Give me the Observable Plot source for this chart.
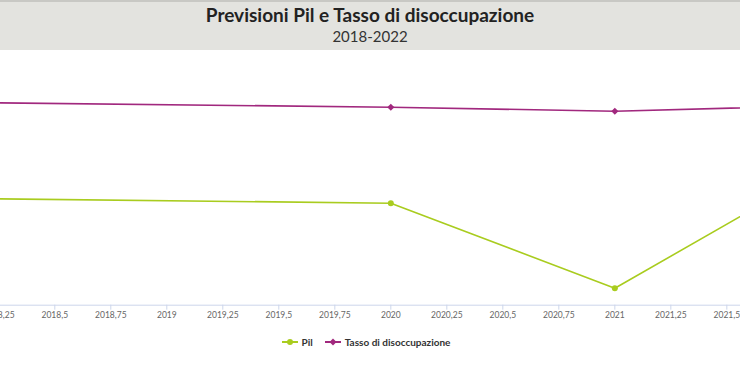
<!DOCTYPE html>
<html>
<head>
<meta charset="utf-8">
<script src="https://cdn.jsdelivr.net/npm/d3@7"></script>
<script src="https://cdn.jsdelivr.net/npm/@observablehq/plot@0.6"></script>
<style>
  body { margin:0; width:740px; height:389px; overflow:hidden; background:#fff; font-family: Lato, "Open Sans", sans-serif; }
  #header { height:48px; background:#e3e3df; border-top:2px solid #c8c8c4; text-align:center; }
  #title { font-weight:bold; font-size:19px; color:#222; padding-top:2px; line-height:22px; }
  #subtitle { font-size:15px; color:#333; line-height:18px; margin-top:1px; }
  #legend { position:absolute; top:336px; left:-4px; width:740px; text-align:center; font-size:10px; font-weight:bold; color:#333; }
  #legend span.item { display:inline-flex; align-items:center; margin:0 6px; }
  #legend svg { margin-right:4px; }
</style>
</head>
<body>
<div id="header">
  <div id="title">Previsioni Pil e Tasso di disoccupazione</div>
  <div id="subtitle">2018-2022</div>
</div>
<div id="chart"></div>
<div id="legend"></div>
<script>
const years = [2018, 2020, 2021, 2022];
const pil = [1.3, 0.8, -7.7, 5.1];
const disoccupazione = [10.9, 10.4, 10.0, 10.6];
const seriesNames = ["Pil", "Tasso di disoccupazione"];
const seriesColors = ["#a9cc1f", "#a1287e"];
const tickValues = [2018.25, 2018.5, 2018.75, 2019, 2019.25, 2019.5, 2019.75, 2020, 2020.25, 2020.5, 2020.75, 2021, 2021.25, 2021.5];

const pilData = years.map((x, i) => ({x, y: pil[i]}));
const disData = years.map((x, i) => ({x, y: disoccupazione[i]}));

const chart = Plot.plot({
  width: 740,
  height: 280,
  marginLeft: 0,
  marginRight: 0,
  marginTop: 40.7,
  marginBottom: 25.3,
  style: { fontFamily: "Lato, sans-serif", background: "transparent" },
  x: { domain: [2018.2576, 2021.561] },
  y: { domain: [-9.4, 12], axis: null },
  marks: [
    Plot.axisX({ ticks: tickValues, tickSize: 5, tickPadding: 2, stroke: "#ccd6eb", fill: "#666", fontSize: 8.5,
                 tickFormat: d => String(d).replace(".", ","), label: null }),
    Plot.ruleY([-9.4], { stroke: "#ccd6eb" }),
    Plot.line(pilData, { x: "x", y: "y", stroke: seriesColors[0], strokeWidth: 1.6, clip: true }),
    Plot.line(disData, { x: "x", y: "y", stroke: seriesColors[1], strokeWidth: 1.6, clip: true }),
    Plot.dot(pilData, { x: "x", y: "y", fill: seriesColors[0], r: 3, symbol: "circle", clip: true }),
    Plot.dot(disData, { x: "x", y: "y", fill: seriesColors[1], r: 3.2, symbol: "diamond2", clip: true })
  ]
});
document.getElementById("chart").appendChild(chart);

const legend = document.getElementById("legend");
seriesNames.forEach((name, i) => {
  const item = document.createElement("span");
  item.className = "item";
  const marker = i === 0
    ? `<circle cx="8" cy="5" r="3" fill="${seriesColors[i]}"/>`
    : `<path d="M8 1.5 L11.5 5 L8 8.5 L4.5 5 Z" fill="${seriesColors[i]}"/>`;
  item.innerHTML = `<svg width="16" height="10"><line x1="0" x2="16" y1="5" y2="5" stroke="${seriesColors[i]}" stroke-width="2"/>${marker}</svg>${name}`;
  legend.appendChild(item);
});
</script>
</body>
</html>
